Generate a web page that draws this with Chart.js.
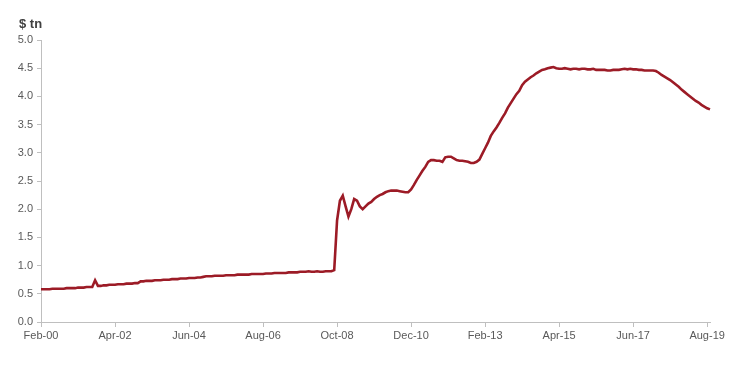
<!DOCTYPE html>
<html>
<head>
<meta charset="utf-8">
<script src="https://cdn.jsdelivr.net/npm/chart.js@4"></script>
<style>
  html, body { margin: 0; padding: 0; background: #fff; }
  #wrap { width: 750px; height: 365px; }
</style>
</head>
<body>
<div id="wrap"><canvas id="fedChart"></canvas></div>
<script>
// monthly values, $ tn, Feb-00 .. Sep-19
const v2000 = [0.58, 0.58, 0.58, 0.58, 0.59, 0.59, 0.59, 0.59, 0.59, 0.60, 0.60]; // Feb-Dec
const v2001 = [0.60, 0.60, 0.61, 0.61, 0.61, 0.62, 0.62, 0.62, 0.74, 0.64, 0.64, 0.65];
const v2002 = [0.65, 0.66, 0.66, 0.66, 0.67, 0.67, 0.67, 0.68, 0.68, 0.68, 0.69, 0.69];
const v2003 = [0.72, 0.72, 0.73, 0.73, 0.73, 0.74, 0.74, 0.74, 0.75, 0.75, 0.75, 0.76];
const v2004 = [0.76, 0.76, 0.77, 0.77, 0.77, 0.78, 0.78, 0.78, 0.79, 0.79, 0.80, 0.81];
const v2005 = [0.81, 0.81, 0.82, 0.82, 0.82, 0.82, 0.83, 0.83, 0.83, 0.83, 0.84, 0.84];
const v2006 = [0.84, 0.84, 0.84, 0.85, 0.85, 0.85, 0.85, 0.85, 0.86, 0.86, 0.86, 0.87];
const v2007 = [0.87, 0.87, 0.87, 0.87, 0.88, 0.88, 0.88, 0.88, 0.89, 0.89, 0.89, 0.90];
const v2008 = [0.89, 0.89, 0.90, 0.89, 0.89, 0.90, 0.90, 0.90, 0.92, 1.80, 2.15, 2.24];
const v2009 = [2.05, 1.87, 2.00, 2.18, 2.15, 2.05, 2.00, 2.05, 2.10, 2.13, 2.18, 2.22];
const v2010 = [2.25, 2.27, 2.30, 2.32, 2.33, 2.33, 2.33, 2.32, 2.31, 2.30, 2.30, 2.35];
const v2011 = [2.43, 2.52, 2.60, 2.68, 2.75, 2.84, 2.87, 2.87, 2.86, 2.86, 2.84, 2.92];
const v2012 = [2.93, 2.93, 2.90, 2.87, 2.86, 2.86, 2.85, 2.84, 2.82, 2.82, 2.84, 2.88];
const v2013 = [2.98, 3.08, 3.18, 3.30, 3.38, 3.45, 3.53, 3.62, 3.70, 3.80, 3.88, 3.96];
const v2014 = [4.04, 4.10, 4.20, 4.26, 4.30, 4.34, 4.37, 4.41, 4.44, 4.47, 4.48, 4.50];
const v2015 = [4.51, 4.52, 4.50, 4.49, 4.49, 4.50, 4.49, 4.48, 4.49, 4.49, 4.48, 4.49];
const v2016 = [4.49, 4.48, 4.48, 4.49, 4.47, 4.47, 4.47, 4.47, 4.46, 4.46, 4.47, 4.47];
const v2017 = [4.47, 4.48, 4.49, 4.48, 4.49, 4.48, 4.48, 4.47, 4.47, 4.46, 4.46, 4.46];
const v2018 = [4.46, 4.45, 4.42, 4.38, 4.35, 4.32, 4.29, 4.25, 4.21, 4.17, 4.12, 4.08];
const v2019 = [4.04, 4.00, 3.96, 3.92, 3.89, 3.85, 3.82, 3.79, 3.77]; // Jan-Sep

const xTickLabels = ['Feb-00', 'Apr-02', 'Jun-04', 'Aug-06', 'Oct-08', 'Dec-10', 'Feb-13', 'Apr-15', 'Jun-17', 'Aug-19'];
const yTicks = [0.0, 0.5, 1.0, 1.5, 2.0, 2.5, 3.0, 3.5, 4.0, 4.5, 5.0];

const values = [].concat(v2000, v2001, v2002, v2003, v2004, v2005, v2006, v2007, v2008, v2009,
                         v2010, v2011, v2012, v2013, v2014, v2015, v2016, v2017, v2018, v2019);

const monthNames = ['Jan','Feb','Mar','Apr','May','Jun','Jul','Aug','Sep','Oct','Nov','Dec'];
const months = [];
for (let i = 0; i < values.length; i++) {
    const m = (1 + i) % 12;
    const y = 2000 + Math.floor((1 + i) / 12);
    months.push(monthNames[m] + '-' + String(y).slice(2));
}

const axisGrey = '#bfbfbf';
const textGrey = '#595959';

const unitLabel = {
    id: 'unitLabel',
    afterDraw(chart) {
        const c = chart.ctx;
        c.save();
        c.font = 'bold 13px "Liberation Sans", Arial, sans-serif';
        c.fillStyle = '#404040';
        c.textBaseline = 'alphabetic';
        c.fillText('$ tn', 19, 28);
        c.restore();
    }
};

new Chart(document.getElementById('fedChart'), {
    type: 'line',
    data: {
        labels: months,
        datasets: [{
            data: values,
            borderColor: '#9c1b26',
            borderWidth: 2.6,
            pointRadius: 0,
            tension: 0,
            fill: false
        }]
    },
    options: {
        responsive: true,
        maintainAspectRatio: false,
        animation: false,
        layout: { padding: { top: 40, right: 40, left: 0, bottom: 0 } },
        scales: {
            x: {
                offset: false,
                border: { display: true, color: axisGrey, width: 1 },
                grid: { display: true, drawOnChartArea: false, drawTicks: true, tickLength: 5, color: axisGrey },
                afterBuildTicks: (scale) => {
                    scale.ticks = scale.ticks.filter(t => xTickLabels.includes(months[t.value]));
                },
                afterFit: (scale) => { scale.height = 43; },
                ticks: {
                    autoSkip: false,
                    maxRotation: 0,
                    padding: 2,
                    color: textGrey,
                    font: { family: '"Liberation Sans", Arial, sans-serif', size: 11 }
                }
            },
            y: {
                min: 0,
                max: 5,
                border: { display: true, color: axisGrey, width: 1 },
                grid: { display: true, drawOnChartArea: false, drawTicks: true, tickLength: 4, color: axisGrey },
                afterBuildTicks: (scale) => {
                    scale.ticks = yTicks.map(v => ({ value: v }));
                },
                afterFit: (scale) => { scale.width = 41; },
                ticks: {
                    padding: 4,
                    color: textGrey,
                    font: { family: '"Liberation Sans", Arial, sans-serif', size: 11 },
                    callback: (v) => Number(v).toFixed(1)
                }
            }
        },
        plugins: {
            legend: { display: false },
            tooltip: { enabled: false }
        }
    },
    plugins: [unitLabel]
});
</script>
</body>
</html>
